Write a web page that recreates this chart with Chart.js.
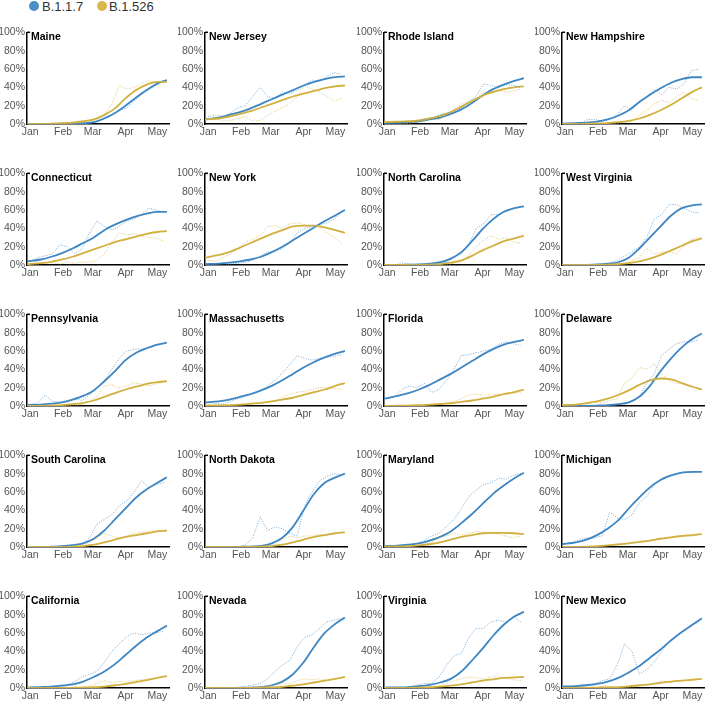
<!DOCTYPE html>
<html>
<head>
<meta charset="utf-8">
<script src="https://cdn.jsdelivr.net/npm/chart.js@4/dist/chart.umd.min.js"></script>
<style>
body { margin: 0; background: #fff; width: 707px; height: 706px; overflow: hidden; position: relative; font-family: "Liberation Sans", Arial, sans-serif; }
.dot { position: absolute; top: 1px; width: 10px; height: 10px; border-radius: 50%; }
.lab { position: absolute; top: 0px; font-size: 13px; line-height: 13px; color: #333; }
canvas { position: absolute; }
</style>
</head>
<body>
<div class="dot" style="left:29px;background:#4a90c6"></div><div class="lab" style="left:42px">B.1.1.7</div>
<div class="dot" style="left:97px;background:#d8b84c"></div><div class="lab" style="left:109px">B.1.526</div>
<script>
// days since Jan 1
var curveDays = [-3, 10, 20, 30, 40, 50, 60, 70, 80, 90, 100, 110, 120, 129];
var noiseDays = [0, 7, 14, 21, 28, 35, 42, 49, 56, 63, 70, 77, 84, 91, 98, 105, 112, 119, 126];
var monthDays = [0, 31, 59, 90, 120];
var monthNames = ['Jan', 'Feb', 'Mar', 'Apr', 'May'];

var states = ['Maine', 'New Jersey', 'Rhode Island', 'New Hampshire',
    'Connecticut', 'New York', 'North Carolina', 'West Virginia',
    'Pennsylvania', 'Massachusetts', 'Florida', 'Delaware',
    'South Carolina', 'North Dakota', 'Maryland', 'Michigan',
    'California', 'Nevada', 'Virginia', 'New Mexico'];

// fitted curves (%)
var fitB117 = [
    [0, 0, 0, 0.2, 0.4, 0.8, 2, 6, 12, 20, 29, 37, 44, 48],
    [5, 7, 10, 13, 17, 22, 27, 32, 37, 42, 46, 49, 51, 52],
    [1, 1.5, 2, 3, 5, 7, 11, 16, 23, 31, 38, 43, 47, 50],
    [0.5, 1, 1.5, 2.5, 5, 9, 15, 24, 32, 39, 45, 49, 51, 51],
    [4, 6, 9, 13, 18, 24, 30, 38, 44, 49, 53, 56, 58, 58],
    [1, 1.5, 2.5, 4, 6, 9, 14, 20, 27, 34, 41, 48, 54, 60],
    [0, 0, 0.3, 0.6, 1.5, 3, 7, 14, 26, 39, 50, 58, 62, 64],
    [0, 0, 0.2, 0.6, 1.5, 3, 8, 18, 30, 42, 54, 62, 65, 66],
    [1, 1.5, 2.5, 4, 7, 11, 17, 27, 38, 50, 58, 63, 67, 69],
    [4, 5, 7, 10, 13, 17, 22, 28, 35, 42, 48, 53, 57, 60],
    [8, 11, 14, 18, 23, 29, 35, 42, 49, 56, 62, 67, 70, 72],
    [0, 0, 0.2, 0.5, 1, 2, 4, 10, 22, 38, 52, 64, 73, 79],
    [0, 0, 0.3, 0.8, 2, 4, 9, 18, 30, 42, 54, 63, 70, 76],
    [0, 0, 0, 0.2, 0.5, 1.2, 4, 10, 22, 40, 58, 70, 76, 80],
    [1, 1.5, 2.5, 4, 7, 11, 17, 26, 36, 47, 58, 67, 75, 81],
    [3, 5, 8, 13, 20, 29, 42, 54, 65, 73, 78, 81, 82, 82],
    [0.5, 1, 1.5, 2.5, 4, 7, 12, 18, 26, 36, 46, 55, 62, 68],
    [0, 0, 0, 0.2, 0.5, 1, 3, 7, 15, 28, 45, 60, 70, 77],
    [0.5, 0.7, 1, 2, 3.5, 6, 10, 18, 30, 43, 57, 69, 78, 83],
    [1.5, 2, 3, 4.5, 7, 11, 17, 24, 33, 42, 52, 61, 69, 76]
];
var fitB1526 = [
    [0, 0, 0.3, 0.8, 1.5, 3, 5, 10, 17, 28, 37, 43, 46, 46],
    [5, 6, 8, 11, 14, 18, 22, 26, 30, 33, 36, 39, 41, 42],
    [2, 2.5, 3, 4, 6, 9, 13, 19, 25, 31, 35, 38, 40, 41],
    [0, 0, 0.3, 0.6, 1, 2, 3.5, 6, 10, 15, 21, 28, 35, 40],
    [1, 2, 3.5, 6, 9, 13, 17, 21, 25, 28, 31, 34, 36, 37],
    [8, 11, 14, 19, 24, 29, 34, 38, 42, 43, 43, 41, 38, 35],
    [0, 0, 0, 0.2, 0.5, 1, 2.5, 5, 10, 16, 21, 26, 29, 32],
    [0, 0, 0, 0.2, 0.5, 1, 2, 4, 7, 11, 16, 21, 26, 29],
    [0, 0.2, 0.5, 1, 2, 3.5, 6, 10, 14, 18, 21, 24, 26, 27],
    [0.5, 0.7, 1, 1.5, 2.5, 3.5, 5, 7, 9, 12, 15, 18, 22, 25],
    [0, 0.3, 0.5, 0.8, 1.5, 2.2, 3, 4.5, 6, 8, 10, 13, 15, 18],
    [1, 1.5, 3, 5, 8, 12, 17, 23, 28, 30, 29, 25, 21, 18],
    [0, 0, 0, 0.2, 0.5, 1, 2.5, 5, 8, 11, 13, 15, 17, 18],
    [0, 0, 0, 0, 0.2, 0.5, 1, 2.5, 5, 8, 11, 13, 15, 16],
    [0.5, 0.7, 1, 1.8, 3, 5, 8, 11, 13, 15, 15.5, 15.5, 15, 14],
    [0, 0.2, 0.5, 1, 1.8, 2.8, 4, 5.5, 7, 9, 10.5, 12, 13, 14],
    [0, 0, 0, 0, 0.2, 0.4, 0.8, 1.5, 3, 4.5, 6.5, 8.5, 11, 13],
    [0, 0, 0, 0, 0.1, 0.3, 0.6, 1.2, 2.5, 4, 6, 8, 10, 12],
    [0, 0, 0.2, 0.4, 0.8, 1.5, 2.5, 4, 6, 8, 9.5, 11, 11.5, 12],
    [0, 0, 0.2, 0.4, 0.7, 1, 1.8, 3, 4, 5.5, 7, 8, 9, 10]
];

// observed (smoothed daily) proportions (%)
var obsB117 = [
    [0, 0, 0, 0, 0, 0, 0, 0, 1, 3, 8, 10, 15, 17, 25, 32, 38, 44, 48],
    [8, 10, 8, 12, 18, 20, 30, 40, 30, 28, 35, 33, 37, 42, 48, 46, 52, 56, 54],
    [1, 0, 2, 1, 2, 5, 6, 10, 12, 12, 18, 25, 30, 44, 42, 40, 43, 42, 40],
    [0, 0, 0, 5, 5, 3, 5, 10, 20, 15, 25, 30, 38, 32, 40, 38, 44, 58, 60],
    [4, 8, 10, 12, 22, 20, 12, 18, 35, 48, 42, 38, 42, 48, 50, 55, 62, 60, 58],
    [0, 0, 0, 1, 2, 3, 5, 10, 14, 15, 18, 24, 35, 40, 42, 44, 46, 50, 58],
    [0, 0, 2, 1, 0, 0, 0, 2, 3, 8, 12, 22, 40, 45, 55, 55, 58, 62, 64],
    [0, 0, 0, 0, 0, 0, 2, 5, 10, 14, 20, 30, 50, 55, 66, 66, 62, 58, 57],
    [2, 3, 12, 5, 4, 6, 8, 6, 12, 20, 28, 40, 52, 60, 62, 62, 64, 66, 68],
    [4, 3, 2, 5, 8, 10, 14, 16, 22, 28, 36, 45, 55, 52, 50, 52, 53, 54, 56],
    [8, 10, 18, 22, 20, 25, 15, 18, 28, 40, 55, 56, 58, 60, 62, 67, 70, 68, 66],
    [0, 0, 0, 0, 0, 0, 0, 1, 3, 5, 10, 25, 35, 55, 62, 68, 70, 70, 72],
    [0, 0, 0, 0, 0, 1, 2, 3, 10, 25, 30, 35, 45, 50, 60, 72, 65, 68, 70],
    [0, 0, 0, 0, 0, 2, 10, 33, 18, 22, 20, 15, 12, 45, 60, 72, 77, 80, 78],
    [1, 1, 2, 3, 4, 7, 12, 15, 22, 30, 42, 55, 62, 68, 70, 75, 74, 78, 80],
    [4, 5, 8, 10, 10, 12, 38, 32, 30, 35, 48, 55, 68, 75, 78, 80, 82, 81, 82],
    [1, 1, 1, 2, 3, 4, 7, 12, 15, 18, 28, 40, 48, 56, 60, 58, 60, 60, 62],
    [0, 0, 0, 0, 1, 2, 3, 5, 10, 18, 25, 30, 45, 55, 58, 65, 72, 74, 76],
    [0, 0, 0, 1, 3, 5, 5, 12, 25, 35, 38, 55, 65, 65, 72, 74, 72, 78, 72],
    [2, 2, 3, 4, 5, 8, 10, 25, 48, 40, 15, 20, 28, 40, 50, 56, 62, 68, 72]
];
var obsB1526 = [
    [0, 0, 1, 0, 1, 1, 1, 2, 3, 5, 10, 22, 42, 38, 40, 44, 47, 46, 45],
    [5, 6, 3, 4, 6, 8, 3, 4, 9, 14, 18, 22, 30, 42, 38, 35, 30, 25, 28],
    [3, 2, 0, 1, 2, 4, 7, 5, 10, 16, 22, 24, 28, 35, 33, 36, 35, 36, 38],
    [0, 0, 0, 0, 0, 1, 1, 1, 2, 3, 10, 15, 22, 26, 23, 30, 35, 28, 25],
    [2, 1, 2, 3, 1, 3, 2, 3, 3, 5, 12, 25, 35, 33, 34, 32, 30, 29, 26],
    [5, 4, 8, 12, 18, 25, 28, 32, 42, 43, 40, 45, 46, 44, 40, 42, 35, 30, 24],
    [0, 0, 0, 0, 0, 0, 0, 0, 0, 2, 3, 10, 20, 27, 32, 28, 30, 25, 24],
    [0, 0, 0, 0, 0, 0, 0, 1, 2, 5, 8, 18, 12, 14, 15, 12, 20, 28, 30],
    [0, 0, 0, 0, 0, 1, 0, 2, 5, 10, 22, 23, 20, 22, 25, 24, 22, 24, 26],
    [0, 0, 0, 0, 1, 1, 2, 3, 4, 5, 10, 13, 15, 16, 18, 20, 20, 19, 18],
    [0, 0, 0, 0, 0, 1, 1, 2, 3, 5, 8, 12, 13, 12, 12, 13, 12, 14, 15],
    [1, 1, 2, 3, 4, 3, 6, 8, 25, 30, 42, 40, 46, 35, 28, 24, 25, 22, 18],
    [0, 0, 0, 0, 0, 0, 1, 2, 5, 10, 15, 12, 10, 12, 15, 16, 17, 18, 17],
    [0, 0, 0, 0, 0, 0, 0, 0, 1, 3, 8, 12, 10, 12, 12, 14, 12, 15, 16],
    [0, 0, 0, 1, 2, 3, 5, 10, 12, 15, 13, 15, 17, 16, 15, 14, 12, 10, 12],
    [0, 0, 0, 0, 0, 1, 2, 2, 3, 4, 5, 7, 8, 10, 11, 12, 11, 12, 13],
    [0, 0, 0, 0, 0, 0, 0, 1, 2, 5, 8, 6, 7, 7, 8, 9, 10, 11, 12],
    [0, 0, 0, 0, 0, 0, 0, 1, 2, 3, 5, 4, 8, 10, 9, 10, 8, 10, 11],
    [0, 0, 0, 0, 0, 0, 1, 2, 5, 8, 10, 12, 11, 10, 12, 12, 11, 9, 8],
    [0, 0, 0, 0, 0, 2, 2, 1, 1, 1, 2, 3, 5, 8, 6, 7, 8, 9, 10]
];

var blueLine = '#3d86c3';
var goldLine = '#d2b03f';
var blueObs = 'rgba(70,140,200,0.75)';
var goldObs = 'rgba(214,184,76,0.8)';
var fontFam = '"Liberation Sans", Arial, sans-serif';

function toPoints(days, vals) {
    var pts = [];
    for (var i = 0; i < days.length; i++) {
        pts.push({ x: days[i], y: vals[i] });
    }
    return pts;
}

//パネル名とy軸上端の目盛り
var panelTitle = {
    id: 'panelTitle',
    afterDraw: function (chart) {
        var a = chart.chartArea;
        var ctx = chart.ctx;
        ctx.save();
        ctx.font = 'bold 10.5px ' + fontFam;
        ctx.fillStyle = '#000';
        ctx.textBaseline = 'alphabetic';
        ctx.fillText(chart.options.plugins.panelTitle.text, a.left + 4, a.top + 8);
        ctx.strokeStyle = '#000';
        ctx.lineWidth = 1.5;
        ctx.beginPath();
        ctx.moveTo(a.left, a.top);
        ctx.lineTo(a.left + 3, a.top);
        ctx.stroke();
        ctx.restore();
    }
};

for (var i = 0; i < states.length; i++) {
    var col = i % 4;
    var row = Math.floor(i / 4);
    var cv = document.createElement('canvas');
    cv.width = 178;
    cv.height = 120;
    cv.style.left = Math.round(col * 178.3) + 'px';
    cv.style.top = Math.round(24 + row * 141) + 'px';
    document.body.appendChild(cv);

    var config = {
        type: 'line',
        data: {
            datasets: [
                { data: toPoints(noiseDays, obsB1526[i]), borderColor: goldObs, borderWidth: 1, borderDash: [1, 1.5], pointRadius: 0, tension: 0 },
                { data: toPoints(noiseDays, obsB117[i]), borderColor: blueObs, borderWidth: 1, borderDash: [1, 1.5], pointRadius: 0, tension: 0 },
                { data: toPoints(curveDays, fitB1526[i]), borderColor: goldLine, borderWidth: 1.8, pointRadius: 0, cubicInterpolationMode: 'monotone' },
                { data: toPoints(curveDays, fitB117[i]), borderColor: blueLine, borderWidth: 1.8, pointRadius: 0, cubicInterpolationMode: 'monotone' }
            ]
        },
        options: {
            responsive: false,
            animation: false,
            devicePixelRatio: 1,
            layout: { padding: { left: 0, right: 9, top: 8, bottom: 4 } },
            plugins: {
                legend: { display: false },
                tooltip: { enabled: false },
                panelTitle: { text: states[i] }
            },
            scales: {
                x: {
                    type: 'linear',
                    min: -3,
                    max: 131,
                    grid: { display: false, drawTicks: false },
                    border: { display: true, color: '#000', width: 1.5 },
                    afterBuildTicks: function (s) {
                        s.ticks = monthDays.map(function (v) { return { value: v }; });
                    },
                    ticks: {
                        autoSkip: false,
                        maxRotation: 0,
                        padding: 2,
                        color: '#555',
                        font: { size: 10.5, family: fontFam },
                        callback: function (v) { return monthNames[monthDays.indexOf(v)]; }
                    },
                    afterFit: function (s) { s.height = 16; }
                },
                y: {
                    min: 0,
                    max: 100,
                    grid: { display: false, drawTicks: false },
                    border: { display: true, color: '#000', width: 1.5 },
                    ticks: {
                        stepSize: 20,
                        padding: 2,
                        color: '#555',
                        font: { size: 10.5, family: fontFam },
                        callback: function (v) { return v + '%'; }
                    },
                    afterFit: function (s) { s.width = 27; }
                }
            }
        },
        plugins: [panelTitle]
    };
    new Chart(cv, config);
}
</script>
</body>
</html>
